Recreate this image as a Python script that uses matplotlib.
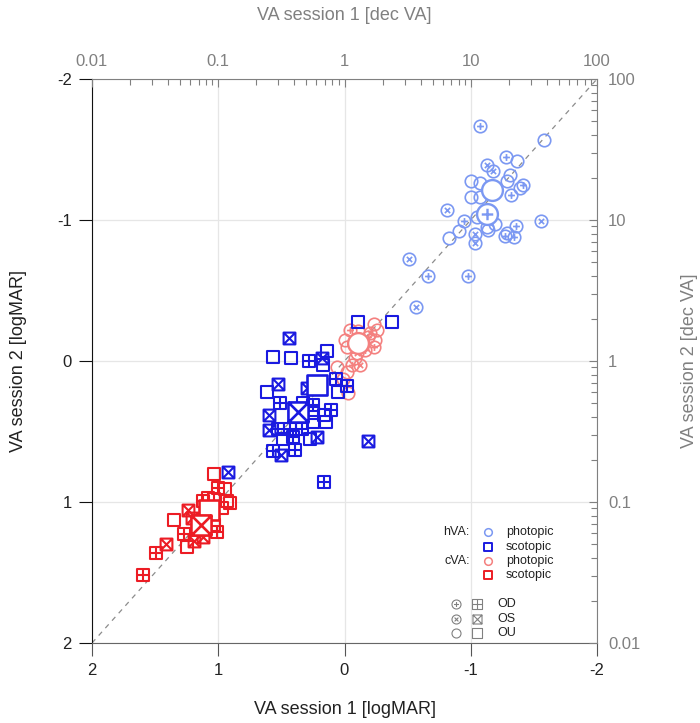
import numpy as np
import matplotlib
matplotlib.use("Agg")
import matplotlib.pyplot as plt
from matplotlib.path import Path
from matplotlib.ticker import NullFormatter

plt.rcParams['font.family'] = ['Liberation Sans', 'DejaVu Sans']
plt.rcParams['axes.unicode_minus'] = False

# (VA session 1, VA session 2) in logMAR
# hVA photopic
hva_pho_OD = [(-1.07, -1.67), (-1.28, -1.45), (-1.41, -1.25), (-1.32, -1.18), (-0.95, -0.99),
              (-1.36, -0.96), (-1.27, -0.89), (-1.34, -0.88), (-0.66, -0.60), (-0.98, -0.60)]
hva_pho_OS = [(-1.13, -1.39), (-1.18, -1.35), (-0.81, -1.07), (-1.56, -0.99), (-1.03, -0.90),
              (-1.03, -0.84), (-0.51, -0.72), (-0.57, -0.38)]
hva_pho_OU = [(-1.58, -1.57), (-1.37, -1.42), (-1.31, -1.32), (-1.29, -1.28), (-1.00, -1.28),
              (-1.07, -1.26), (-1.39, -1.23), (-1.00, -1.16), (-1.07, -1.16), (-1.05, -1.02),
              (-1.19, -0.97), (-1.13, -0.95), (-0.91, -0.92), (-1.14, -0.93), (-1.29, -0.91),
              (-0.83, -0.87)]
hva_pho_mean_OD = [(-1.13, -1.04)]
hva_pho_mean_OU = [(-1.17, -1.21)]

# cVA photopic
cva_pho_OD = [(-0.04, -0.22), (-0.19, -0.17), (-0.23, -0.10), (-0.06, 0.03), (-0.16, -0.08)]
cva_pho_OS = [(-0.10, -0.06), (-0.12, 0.03), (-0.20, -0.20)]
cva_pho_OU = [(-0.23, -0.26), (-0.26, -0.22), (-0.11, -0.21), (0.00, -0.15), (-0.02, -0.10),
              (-0.24, -0.15), (0.06, 0.04), (-0.02, 0.08), (0.01, 0.13), (-0.03, 0.23),
              (-0.08, -0.02), (-0.15, -0.12)]
cva_pho_mean_OU = [(-0.11, -0.13)]

# hVA scotopic
hva_sco_OD = [(0.28, 0.00), (0.51, 0.30), (0.07, 0.13), (-0.02, 0.18), (0.25, 0.31),
              (0.11, 0.35), (0.53, 0.48), (0.43, 0.48), (0.34, 0.48), (0.41, 0.54),
              (0.57, 0.64), (0.39, 0.63), (0.16, 0.86)]
hva_sco_OS = [(0.44, -0.16), (0.18, -0.02), (0.53, 0.16), (0.60, 0.38), (0.30, 0.19),
              (0.60, 0.49), (0.22, 0.54), (0.50, 0.67), (-0.19, 0.57), (0.92, 0.79)]
hva_sco_OU = [(-0.11, -0.28), (-0.38, -0.28), (0.57, -0.03), (0.42, -0.02), (0.14, -0.07),
              (0.17, 0.03), (0.61, 0.22), (0.05, 0.22), (0.33, 0.30), (0.16, 0.38),
              (0.25, 0.37), (0.25, 0.43), (0.49, 0.55), (0.27, 0.55), (0.15, 0.43)]
hva_sco_mean_OS = [(0.37, 0.36)]
hva_sco_mean_OU = [(0.22, 0.17)]

# cVA scotopic
cva_sco_OD = [(1.00, 0.90), (1.01, 1.21), (1.27, 1.23), (1.49, 1.36), (1.60, 1.52), (1.12, 0.99)]
cva_sco_OS = [(1.24, 1.06), (1.12, 1.25), (1.19, 1.28), (1.41, 1.30), (1.21, 1.11)]
cva_sco_OU = [(1.03, 0.80), (0.95, 0.91), (0.93, 0.99), (0.91, 1.01), (1.35, 1.13),
              (1.25, 1.32), (0.97, 1.04), (1.08, 0.97), (1.03, 0.98), (1.03, 1.16)]
cva_sco_mean_OU = [(1.07, 1.06)]
cva_sco_mean_OS = [(1.14, 1.16)]

logmar_ticks = [-2, -1, 0, 1, 2]
dec_ticks = [0.01, 0.1, 1, 10, 100]
dec_labels = ['0.01', '0.1', '1', '10', '100']

C_HVA_PHO = '#7b98f2'
C_HVA_SCO = '#1a1ae0'
C_CVA_PHO = '#f4807f'
C_CVA_SCO = '#ec1c24'
GREY = '#808080'


def make_marker(shape, inner):
    # outline (circle or square) with optional plus / cross inside
    if shape == 'o':
        outline = Path.unit_circle()
        a = 0.55 if inner == '+' else 0.42
    else:
        outline = Path([(-1, -1), (1, -1), (1, 1), (-1, 1), (-1, -1)],
                       [Path.MOVETO, Path.LINETO, Path.LINETO, Path.LINETO, Path.CLOSEPOLY])
        a = 1.0
    codes = [Path.MOVETO, Path.LINETO, Path.MOVETO, Path.LINETO]
    if inner == '+':
        inside = Path([(-a, 0), (a, 0), (0, -a), (0, a)], codes)
    elif inner == 'x':
        inside = Path([(-a, -a), (a, a), (-a, a), (a, -a)], codes)
    else:
        return outline
    return Path.make_compound_path(outline, inside)


def draw(ax, pts, color, shape, inner, ms=8.5, lw=1.2, face='none', z=3):
    x = [p[0] for p in pts]
    y = [p[1] for p in pts]
    ax.plot(x, y, ls='none', marker=make_marker(shape, inner), ms=ms,
            mec=color, mfc=face, mew=lw, zorder=z)


fig = plt.figure(figsize=(7, 7.23), dpi=100)
ax = fig.add_axes([92 / 700, 80 / 723, 505 / 700, 564 / 723])

ax.set_xlim(2, -2)
ax.set_ylim(2, -2)
ax.set_xticks(logmar_ticks)
ax.set_yticks(logmar_ticks)
ax.set_xticklabels([str(t) for t in logmar_ticks])
ax.set_yticklabels([str(t) for t in logmar_ticks])
ax.grid(True, color='#e6e6e6', lw=0.9)
ax.set_axisbelow(True)

ax.plot([2, -2], [2, -2], ls=(0, (4, 4)), color='#8c8c8c', lw=0.9, zorder=2)

# photopic first, scotopic on top
draw(ax, hva_pho_OU, C_HVA_PHO, 'o', None, ms=9, lw=1.2)
draw(ax, hva_pho_OS, C_HVA_PHO, 'o', 'x', ms=9, lw=1.2)
draw(ax, hva_pho_OD, C_HVA_PHO, 'o', '+', ms=9, lw=1.2)
draw(ax, hva_pho_mean_OU, C_HVA_PHO, 'o', None, ms=15, lw=1.7, face='white', z=4)
draw(ax, hva_pho_mean_OD, C_HVA_PHO, 'o', '+', ms=15, lw=1.7, face='white', z=4)

draw(ax, cva_pho_OU, C_CVA_PHO, 'o', None, ms=9, lw=1.2)
draw(ax, cva_pho_OS, C_CVA_PHO, 'o', 'x', ms=9, lw=1.2)
draw(ax, cva_pho_OD, C_CVA_PHO, 'o', '+', ms=9, lw=1.2)
draw(ax, cva_pho_mean_OU, C_CVA_PHO, 'o', None, ms=15, lw=1.7, face='white', z=4)

draw(ax, hva_sco_OU, C_HVA_SCO, 's', None, lw=1.5, z=5)
draw(ax, hva_sco_OS, C_HVA_SCO, 's', 'x', lw=1.5, z=5)
draw(ax, hva_sco_OD, C_HVA_SCO, 's', '+', lw=1.5, z=5)
draw(ax, hva_sco_mean_OU, C_HVA_SCO, 's', None, ms=14.5, lw=1.9, face='white', z=6)
draw(ax, hva_sco_mean_OS, C_HVA_SCO, 's', 'x', ms=14.5, lw=1.9, face='white', z=6)

draw(ax, cva_sco_OU, C_CVA_SCO, 's', None, lw=1.5, z=5)
draw(ax, cva_sco_OS, C_CVA_SCO, 's', 'x', lw=1.5, z=5)
draw(ax, cva_sco_OD, C_CVA_SCO, 's', '+', lw=1.5, z=5)
draw(ax, cva_sco_mean_OU, C_CVA_SCO, 's', None, ms=14.5, lw=1.9, face='white', z=6)
draw(ax, cva_sco_mean_OS, C_CVA_SCO, 's', 'x', ms=14.5, lw=1.9, face='white', z=6)

# legend, drawn by hand in axes coordinates
lk = dict(transform=ax.transAxes, clip_on=False, ls='none', zorder=7)
tk = dict(transform=ax.transAxes, fontsize=9, color='#222222', va='center')
rows = [(0.197, 'hVA:', C_HVA_PHO, 'o', 'photopic'),
        (0.170, None, C_HVA_SCO, 's', 'scotopic'),
        (0.145, 'cVA:', C_CVA_PHO, 'o', 'photopic'),
        (0.120, None, C_CVA_SCO, 's', 'scotopic')]
for fy, head, col, shp, name in rows:
    if head:
        ax.text(0.748, fy, head, ha='right', **tk)
    ax.plot([0.784], [fy], marker=make_marker(shp, None), ms=5.5, mec=col, mfc='none',
            mew=1.4 if shp == 's' else 1.1, **lk)
    ax.text(0.820, fy, name, ha='left', **tk)

for fy, inner, name in [(0.069, '+', 'OD'), (0.043, 'x', 'OS'), (0.018, None, 'OU')]:
    ax.plot([0.721], [fy], marker=make_marker('o', inner), ms=6.5, mec=GREY, mfc='none', mew=0.8, **lk)
    ax.plot([0.762], [fy], marker=make_marker('s', inner), ms=6.5, mec=GREY, mfc='none', mew=0.8, **lk)
    ax.text(0.802, fy, name, ha='left', **tk)

# logMAR axes (left / bottom)
ax.spines['top'].set_visible(False)
ax.spines['right'].set_visible(False)
ax.spines['left'].set_color('#111111')
ax.spines['bottom'].set_color('#666666')
ax.tick_params(axis='both', direction='out', length=9.5, width=0.8, labelsize=12,
               labelcolor='#222222', pad=5)
ax.tick_params(axis='x', color='#555555')
ax.tick_params(axis='y', color='#111111')
ax.set_xlabel('VA session 1 [logMAR]', fontsize=13, color='#222222')
ax.set_ylabel('VA session 2 [logMAR]', fontsize=13, color='#222222')
ax.xaxis.set_label_coords(0.5, -0.102)
ax.yaxis.set_label_coords(-0.128, 0.5)

# decimal VA axes (top / right)
ax_t = ax.twiny()
ax_t.set_xscale('log')
ax_t.set_xlim(10 ** -2, 10 ** 2)
ax_t.set_xticks(dec_ticks)
ax_t.set_xticklabels(dec_labels)
ax_t.xaxis.set_minor_formatter(NullFormatter())
ax_t.tick_params(axis='x', which='both', direction='in', color=GREY, labelcolor=GREY,
                 labelsize=12, pad=7)
ax_t.tick_params(axis='x', which='major', length=6, width=0.8)
ax_t.tick_params(axis='x', which='minor', length=4, width=0.8)
ax_t.set_xlabel('VA session 1 [dec VA]', fontsize=13, color=GREY)
ax_t.xaxis.set_label_coords(0.5, 1.104)

ax_r = ax.twinx()
ax_r.set_yscale('log')
ax_r.set_ylim(10 ** -2, 10 ** 2)
ax_r.set_yticks(dec_ticks)
ax_r.set_yticklabels(dec_labels)
ax_r.yaxis.set_minor_formatter(NullFormatter())
ax_r.tick_params(axis='y', which='both', direction='in', color=GREY, labelcolor=GREY,
                 labelsize=12, pad=8)
ax_r.tick_params(axis='y', which='major', length=6, width=0.8)
ax_r.tick_params(axis='y', which='minor', length=4, width=0.8)
ax_r.set_ylabel('VA session 2 [dec VA]', fontsize=13, color=GREY)
ax_r.yaxis.set_label_coords(1.166, 0.5)

for a in (ax_t, ax_r):
    for s in a.spines.values():
        s.set_visible(False)
ax_t.spines['top'].set_visible(True)
ax_t.spines['top'].set_color(GREY)
ax_r.spines['right'].set_visible(True)
ax_r.spines['right'].set_color(GREY)

fig.savefig('out.png', dpi=100)
